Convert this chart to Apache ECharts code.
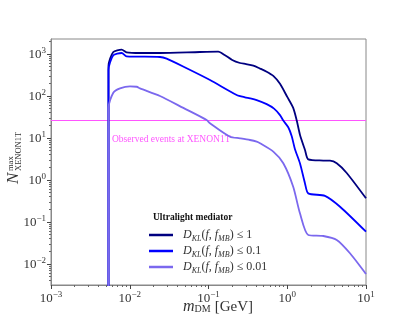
<!DOCTYPE html>
<html>
<head>
<meta charset="utf-8">
<script src="https://cdn.jsdelivr.net/npm/echarts@6/dist/echarts.min.js"></script>
<style>html,body{margin:0;padding:0;background:#fff}#c{width:407px;height:326px}</style>
</head>
<body>
<div id="c"></div>
<script>
// ---- data ----
const massDark = [0.00537, 0.00537, 0.00618, 0.00791, 0.0091, 0.0135, 0.0242, 0.078, 0.133, 0.160, 0.200, 0.251, 0.300, 0.371, 0.451, 0.548, 0.665, 0.809, 1.0, 1.19, 1.32, 1.45, 1.68, 1.85, 2.87, 3.49, 4.25, 5.69, 10];
const nDark    = [0.0001, 518, 1116, 1266, 1097, 1056, 1056, 1116, 1135, 950, 720, 610, 575, 527, 450, 379, 300, 195, 95, 52, 26, 12, 5.2, 3.1, 2.9, 2.88, 2.5, 1.47, 0.366];

const massMid = [0.00537, 0.00537, 0.00618, 0.00791, 0.0091, 0.0242, 0.0294, 0.0528, 0.1045, 0.228, 0.290, 0.336, 0.409, 0.548, 0.680, 0.809, 0.891, 1.03, 1.14, 1.25, 1.45, 1.68, 1.85, 3.01, 4.68, 10];
const nMid    = [0.0001, 416, 931, 1056, 882, 849, 773, 457, 240, 106, 93, 88, 80, 64, 50, 35, 26, 18, 11, 5.5, 2.5, 0.83, 0.48, 0.42, 0.231, 0.0587];

const massLight = [0.00537, 0.00537, 0.00618, 0.00752, 0.01007, 0.01225, 0.0135, 0.0242, 0.0479, 0.0948, 0.1045, 0.1875, 0.251, 0.336, 0.409, 0.451, 0.665, 0.891, 1.19, 1.45, 1.85, 2.87, 4.25, 6.26, 10];
const nLight    = [0.0001, 52, 120, 152, 170, 166, 152, 100, 52, 26.8, 22.4, 10.7, 9.84, 8.96, 8.17, 7.48, 4.72, 2.5, 0.69, 0.161, 0.049, 0.0464, 0.0373, 0.018, 0.00578];

const observedLevel = 26;
const observedLabel = 'Observed events at XENON1T';
const legendTitle = 'Ultralight mediator';
const legendLimits = ['1', '0.1', '0.01'];
const seriesNames = ['DKL<=1', 'DKL<=0.1', 'DKL<=0.01'];

const xMajor = [0.001, 0.01, 0.1, 1, 10];
const yMajor = [0.01, 0.1, 1, 10, 100, 1000];
const xExp = {'0.001': '−3', '0.01': '−2', '0.1': '−1', '1': '0', '10': '1'};
const yExp = {'0.01': '−2', '0.1': '−1', '1': '0', '10': '1', '100': '2', '1000': '3'};

function minorVals(k0, k1) {
  const out = [];
  for (let k = k0; k <= k1; k++) for (let m = 2; m <= 9; m++) out.push(+(m * Math.pow(10, k)).toPrecision(3));
  return out;
}
const xMinor = minorVals(-3, 0);
const yMinor = minorVals(-3, 3);

const yMin = Math.pow(10, -2.5), yMax = Math.pow(10, 3.357);
const serif = 'Liberation Serif';
const colors = ['#000080', '#0000ff', '#7b68ee'];

function zip(a, b) { return a.map((v, i) => [v, b[i]]); }

const chart = echarts.init(document.getElementById('c'), null, {renderer: 'canvas'});
const richTick = {
  b: {fontFamily: serif, fontSize: 13, color: '#333', lineHeight: 15, verticalAlign: 'bottom'},
  s: {fontFamily: serif, fontSize: 9, color: '#333', lineHeight: 9, verticalAlign: 'top'}
};
const richLeg = {
  i: {fontFamily: serif, fontStyle: 'italic', fontSize: 12, color: '#333', lineHeight: 16, verticalAlign: 'middle'},
  t: {fontFamily: serif, fontSize: 12, color: '#333', lineHeight: 16, verticalAlign: 'middle'},
  sb: {fontFamily: serif, fontStyle: 'italic', fontSize: 8, color: '#333', lineHeight: 8, verticalAlign: 'bottom'}
};

const lineSeries = [[massDark, nDark], [massMid, nMid], [massLight, nLight]].map((d, i) => ({
  name: seriesNames[i], type: 'line', xAxisIndex: 0, yAxisIndex: 0,
  data: zip(d[0], d[1]), showSymbol: false, symbol: 'none', smooth: 0.25,
  lineStyle: {color: colors[i], width: 1.8}, itemStyle: {color: colors[i]},
  clip: true, z: 3 + i
}));

const option = {
  animation: false,
  backgroundColor: '#fff',
  grid: {left: 51, right: 41, top: 39, bottom: 41, show: true, borderColor: '#888', borderWidth: 1, backgroundColor: 'transparent'},
  xAxis: [{
    type: 'log', logBase: 10, min: 0.001, max: 10, gridIndex: 0,
    axisLine: {show: true, lineStyle: {color: '#888'}},
    axisTick: {show: true, inside: false, length: 4, lineStyle: {color: '#444'}, customValues: xMajor},
    axisLabel: {customValues: xMajor, margin: 5, formatter: v => '{b|10}{s|' + xExp[String(v)] + '}', rich: richTick},
    splitLine: {show: false}, minorTick: {show: false}
  }, {
    type: 'log', logBase: 10, min: 0.001, max: 10, gridIndex: 0, position: 'bottom',
    axisLine: {show: false},
    axisTick: {show: true, inside: false, length: 2, lineStyle: {color: '#666'}, customValues: xMinor},
    axisLabel: {show: false}, splitLine: {show: false}
  }],
  yAxis: [{
    type: 'log', logBase: 10, min: yMin, max: yMax, gridIndex: 0,
    axisLine: {show: true, lineStyle: {color: '#888'}},
    axisTick: {show: true, inside: false, length: 4, lineStyle: {color: '#444'}, customValues: yMajor},
    axisLabel: {customValues: yMajor, margin: 5, formatter: v => '{b|10}{s|' + yExp[String(v)] + '}', rich: richTick},
    splitLine: {show: false}
  }, {
    type: 'log', logBase: 10, min: yMin, max: yMax, gridIndex: 0, position: 'left',
    axisLine: {show: false},
    axisTick: {show: true, inside: false, length: 2, lineStyle: {color: '#666'}, customValues: yMinor},
    axisLabel: {show: false}, splitLine: {show: false}
  }],
  legend: {
    orient: 'vertical', left: 144, top: 224, itemWidth: 24, itemHeight: 2.5, itemGap: 2,
    icon: 'rect', data: seriesNames,
    textStyle: {padding: [0, 0, 0, 5], rich: richLeg},
    formatter: name => {
      const idx = seriesNames.indexOf(name);
      return '{i|D}{sb|KL}{t|(}{i|f}{t|, }{i|f}{sb|MB}{t|) ≤ ' + legendLimits[idx] + '}';
    }
  },
  series: lineSeries.concat([{
    name: 'observed', type: 'line', data: [[0.001, observedLevel], [10, observedLevel]],
    showSymbol: false, symbol: 'none', lineStyle: {color: '#ff55ff', width: 1.1}, z: 2, silent: true
  }]),
  graphic: [
    {type: 'text', x: 112, y: 139, style: {text: observedLabel, fill: '#ff55ff', font: '9.5px "Liberation Serif"', textAlign: 'left', textVerticalAlign: 'middle'}},
    {type: 'text', x: 153, y: 218, style: {text: legendTitle, fill: '#111', font: 'bold 9.5px "Liberation Serif"', textAlign: 'left', textVerticalAlign: 'middle'}},
    {type: 'text', x: 183, y: 306, style: {
      text: '{m|m}{d|DM}{g|[GeV]}', textAlign: 'left', textVerticalAlign: 'middle',
      rich: {
        m: {fontFamily: serif, fontStyle: 'italic', fontSize: 16, fill: '#333', lineHeight: 17, verticalAlign: 'bottom'},
        d: {fontFamily: serif, fontSize: 10, fill: '#333', lineHeight: 10, verticalAlign: 'bottom'},
        g: {fontFamily: serif, fontSize: 15, fill: '#333', lineHeight: 17, verticalAlign: 'bottom', padding: [0, 0, 0, 4]}
      }
    }},
    {type: 'text', x: 14, y: 184, rotation: Math.PI / 2, style: {text: 'N', fill: '#333', font: 'italic 17px "Liberation Serif"', textAlign: 'left', textVerticalAlign: 'middle'}},
    {type: 'text', x: 11, y: 171, rotation: Math.PI / 2, style: {text: 'max', fill: '#333', font: '8.5px "Liberation Serif"', textAlign: 'left', textVerticalAlign: 'middle'}},
    {type: 'text', x: 18.5, y: 171, rotation: Math.PI / 2, style: {text: 'XENON1T', fill: '#333', font: '8.5px "Liberation Serif"', textAlign: 'left', textVerticalAlign: 'middle'}}
  ]
};
chart.setOption(option);
</script>
</body>
</html>
